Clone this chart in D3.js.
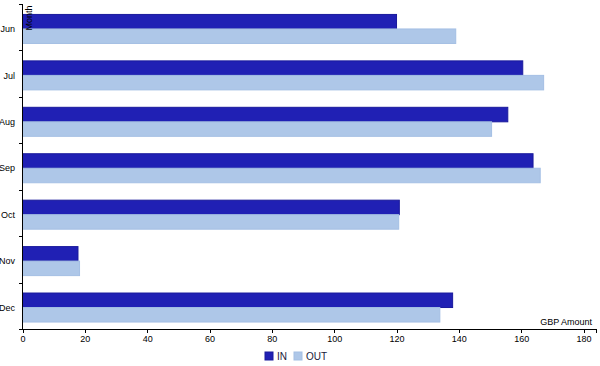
<!DOCTYPE html>
<html>
<head>
<meta charset="utf-8">
<script src="https://cdn.jsdelivr.net/npm/d3@7"></script>
<style>
  body { margin: 0; background: #fff; }
  svg { font-family: "Liberation Sans", Arial, sans-serif; }
  .axis path, .axis line { stroke: #000; fill: none; shape-rendering: crispEdges; }
  .axis text { fill: #000; font-size: 9px; }
</style>
</head>
<body>
<svg id="chart" width="600" height="366"></svg>
<script>
// data
var months = ["Jun", "Jul", "Aug", "Sep", "Oct", "Nov", "Dec"];
var series = ["IN", "OUT"];
var inValues = [120, 160.5, 155.7, 163.8, 120.9, 17.8, 138];
var outValues = [139, 167.2, 150.5, 166.1, 120.7, 18.3, 133.9];
var xTicks = [0, 20, 40, 60, 80, 100, 120, 140, 160, 180];

var colors = { IN: "#2020b4", OUT: "#aec7e8" };
var strokes = { IN: "#1a1a9c", OUT: "#a4bfe4" };

var svg = d3.select("#chart"),
    plotLeft = 22.5,
    plotRight = 596,
    plotTop = 4,
    plotBottom = 329;

var x = d3.scaleLinear().domain([0, 184]).range([plotLeft, plotRight]);
var y = d3.scaleBand().domain(months).range([plotTop, plotBottom])
    .paddingInner(0.375).paddingOuter(0.1875).align(0.6);
var sub = d3.scaleBand().domain(series).range([0, y.bandwidth()]);

var rows = [];
months.forEach(function(m, i) {
  rows.push({ month: m, key: "IN", value: inValues[i] });
  rows.push({ month: m, key: "OUT", value: outValues[i] });
});

svg.append("g").selectAll("rect")
  .data(rows)
  .enter().append("rect")
    .attr("x", x(0))
    .attr("y", function(d) { return y(d.month) + sub(d.key); })
    .attr("width", function(d) { return x(d.value) - x(0); })
    .attr("height", sub.bandwidth())
    .attr("fill", function(d) { return colors[d.key]; })
    .attr("stroke", function(d) { return strokes[d.key]; })
    .attr("stroke-width", 1);

// x axis
svg.append("g")
  .attr("class", "axis")
  .attr("transform", "translate(0," + plotBottom + ")")
  .call(d3.axisBottom(x).tickValues(xTicks).tickSize(4).tickSizeOuter(4).tickPadding(3));

// y axis: ticks sit on category boundaries, labels in the middle
var step = (plotBottom - plotTop) / months.length;
var bounds = d3.range(months.length + 1).map(function(i) { return plotTop + i * step; });
var yAxis = svg.append("g").attr("class", "axis");
yAxis.append("path").attr("d", "M" + plotLeft + "," + plotTop + "V" + plotBottom);
yAxis.selectAll("line").data(bounds).enter().append("line")
  .attr("x1", plotLeft - 4).attr("x2", plotLeft)
  .attr("y1", function(d) { return Math.round(d) + 0.5; })
  .attr("y2", function(d) { return Math.round(d) + 0.5; });
yAxis.selectAll("text").data(months).enter().append("text")
  .attr("x", 15)
  .attr("y", function(m) { return y(m) + y.bandwidth() / 2; })
  .attr("dy", "0.35em")
  .attr("text-anchor", "end")
  .attr("fill", "#1a1a3a")
  .text(function(m) { return m; });

// axis titles
svg.append("text")
  .attr("transform", "translate(32,18) rotate(-90)")
  .attr("text-anchor", "middle")
  .attr("font-size", "9px")
  .text("Month");
svg.append("text")
  .attr("x", 592).attr("y", 325)
  .attr("text-anchor", "end")
  .attr("font-size", "9px")
  .text("GBP Amount");

// legend
var legend = svg.append("g").selectAll("g")
  .data(series)
  .enter().append("g")
    .attr("transform", function(d, i) { return "translate(" + (265 + i * 29) + ",352)"; });
legend.append("rect")
  .attr("width", 8).attr("height", 8)
  .attr("fill", function(d) { return colors[d]; })
  .attr("stroke", function(d) { return strokes[d]; });
legend.append("text")
  .attr("x", 12).attr("y", 8)
  .attr("font-size", "10px")
  .attr("fill", "#1a1a3a")
  .text(function(d) { return d; });
</script>
</body>
</html>
